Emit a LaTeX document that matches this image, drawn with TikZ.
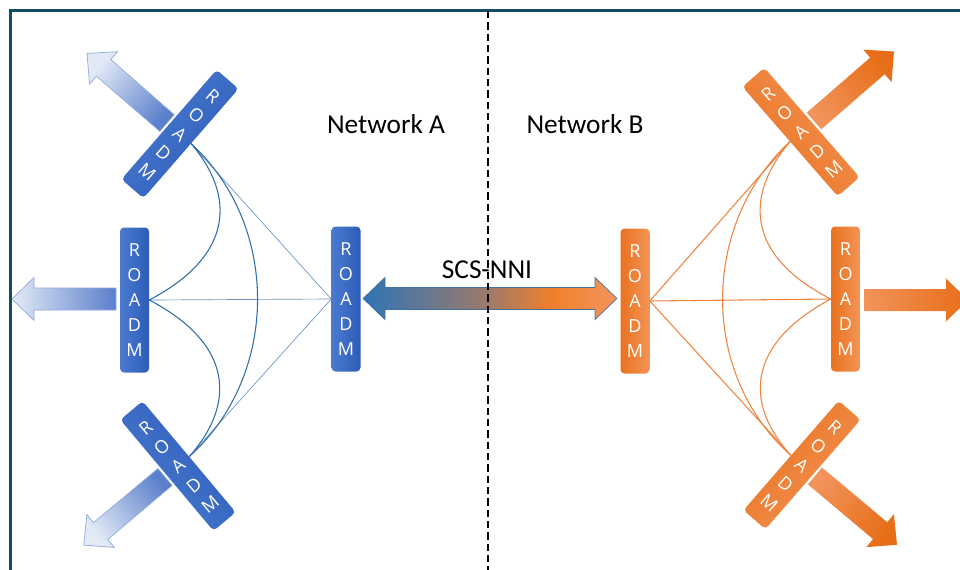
\documentclass[tikz,border=0pt]{standalone}
\usepackage{fontspec}
\setmainfont{Carlito}
\newfontfamily\roadmfont{Open Sans}
\definecolor{frameC}{HTML}{124C66}
\definecolor{boxBL}{HTML}{4A7BD0}
\definecolor{boxBR}{HTML}{2D5CB8}
\definecolor{boxOL}{HTML}{E9721F}
\definecolor{boxOR}{HTML}{F39457}
\definecolor{arrBbase}{HTML}{5A7FCB}
\definecolor{arrBtip}{HTML}{E3EAF6}
\definecolor{arrBline}{HTML}{8EAADB}
\definecolor{arrObase}{HTML}{F2935A}
\definecolor{arrOtip}{HTML}{E76E18}
\definecolor{lineBc}{HTML}{2E6FA7}
\definecolor{lineBs}{HTML}{6C95C6}
\definecolor{lineO}{HTML}{EE8440}
\definecolor{nniA}{HTML}{2E75B6}
\definecolor{nniM}{HTML}{A07A68}
\definecolor{nniO}{HTML}{F07F2C}
\definecolor{nniE}{HTML}{F2945E}
\definecolor{nniLine}{HTML}{41719C}
\pgfdeclarehorizontalshading{nnishade}{100bp}{color(0bp)=(nniA); color(25bp)=(nniA); color(50bp)=(nniM); color(62bp)=(nniO); color(75bp)=(nniE); color(100bp)=(nniE)}
\tikzset{
  roadm/.style={rectangle, rounded corners=3pt, minimum width=21.75pt, minimum height=108.75pt,
    inner sep=0pt, text=white, align=center, font=\roadmfont\fontsize{13.5}{18.75}\selectfont},
  roadmB/.style={roadm, left color=boxBL, right color=boxBR},
  roadmO/.style={roadm, left color=boxOL, right color=boxOR},
  blarrow/.style={left color=arrBbase, right color=arrBtip, draw=arrBline, line width=0.5pt},
  orarrow/.style={left color=arrObase, right color=arrOtip},
  bcurve/.style={draw=lineBc, line width=0.8pt},
  bstraight/.style={draw=lineBs, line width=0.5pt},
  ocurve/.style={draw=lineO, line width=0.8pt},
  label/.style={font=\fontsize{20.5}{24}\selectfont, text=black}
}
% #1,#2 base point; #3 direction; #4 length; #5 style; #6 shading angle (= direction+90)
\newcommand\fadearrow[6]{%
  \begin{scope}[shift={(#1,#2)}, rotate=#3]
    \path[#5, shading angle=#6] (0,-11) -- ({#4-22},-11) -- ({#4-22},-21.5) -- (#4,0)
      -- ({#4-22},21.5) -- ({#4-22},11) -- (0,11) -- cycle;
  \end{scope}}
\begin{document}
\begin{tikzpicture}[x=0.75pt, y=-0.75pt]
\useasboundingbox (0,0) rectangle (960,569);
\clip (0,0) rectangle (960,569);
\fill[white] (0,0) rectangle (960,569);
% frame
\draw[frameC, line width=1.6pt] (10.5,590) -- (10.5,10.5) -- (990,10.5);

% named ROADM positions (invisible, for connector anchors)
\node[roadm, rotate=-41, text opacity=0] (TL) at (180,134) {R\\O\\A\\D\\M};
\node[roadm, text opacity=0] (ML) at (134.5,300) {R\\O\\A\\D\\M};
\node[roadm, rotate=40, text opacity=0] (BL) at (178,466) {R\\O\\A\\D\\M};
\node[roadm, text opacity=0] (C) at (346,299) {R\\O\\A\\D\\M};
\node[roadm, text opacity=0] (C2) at (635,301) {R\\O\\A\\D\\M};
\node[roadm, text opacity=0] (R) at (845.5,299) {R\\O\\A\\D\\M};
\node[roadm, rotate=41, text opacity=0] (TR) at (801,132) {R\\O\\A\\D\\M};
\node[roadm, rotate=-41, text opacity=0] (BR) at (802,465) {R\\O\\A\\D\\M};

% blue mesh
\draw[bstraight] (TL.east) -- (C.west);
\draw[bstraight] (ML.east) -- (C.west);
\draw[bstraight] (BL.east) -- (C.west);
\draw[bcurve] (TL.east) .. controls (235,195) and (235,255) .. (ML.east);
\draw[bcurve] (ML.east) .. controls (235,345) and (235,405) .. (BL.east);
\draw[bcurve] (TL.east) .. controls (280,225) and (280,375) .. (BL.east);

% orange mesh
\draw[ocurve] (TR.west) -- (C2.east);
\draw[ocurve] (R.west) -- (C2.east);
\draw[ocurve] (BR.west) -- (C2.east);
\draw[ocurve] (TR.west) .. controls (745,195) and (745,255) .. (R.west);
\draw[ocurve] (R.west) .. controls (745,345) and (745,405) .. (BR.west);
\draw[ocurve] (TR.west) .. controls (700,225) and (700,375) .. (BR.west);

% outgoing block arrows
\fadearrow{167}{123}{139}{106}{blarrow}{229}
\fadearrow{116}{299}{180}{104}{blarrow}{270}
\fadearrow{165}{477}{220}{106}{blarrow}{310}
\fadearrow{814}{121}{41}{106}{orarrow}{131}
\fadearrow{864}{300}{0}{104}{orarrow}{90}
\fadearrow{815}{476}{-40}{107}{orarrow}{50}

% visible ROADM boxes
\node[roadmB, rotate=-41, shading angle=49] at (TL) {R\\O\\A\\D\\M};
\node[roadmB] at (ML) {R\\O\\A\\D\\M};
\node[roadmB, rotate=40, shading angle=130] at (BL) {R\\O\\A\\D\\M};
\node[roadmB] at (C) {R\\O\\A\\D\\M};
\node[roadmO] at (C2) {R\\O\\A\\D\\M};
\node[roadmO] at (R) {R\\O\\A\\D\\M};
\node[roadmO, rotate=41, shading angle=131] at (TR) {R\\O\\A\\D\\M};
\node[roadmO, rotate=-41, shading angle=49] at (BR) {R\\O\\A\\D\\M};

% SCS-NNI double arrow
\path[shading=nnishade, draw=nniLine, line width=0.5pt]
  (363,298.5) -- (385,277.5) -- (385,287.5) -- (595,287.5) -- (595,277.5) -- (617,298.5)
  -- (595,319.5) -- (595,309.5) -- (385,309.5) -- (385,319.5) -- cycle;

% labels
\node[label] (NA) at (386,124) {Network A};
\node[label] (NB) at (585,124) {Network B};
\node[label] (NNI) at (487,270) {SCS-NNI};

% divider
\coordinate (dtop) at (488,11);
\coordinate (dbot) at (488,575);
\draw[black, line width=1.4pt, dash pattern=on 5.5pt off 3pt] (dtop) -- (dbot);
\end{tikzpicture}
\end{document}
